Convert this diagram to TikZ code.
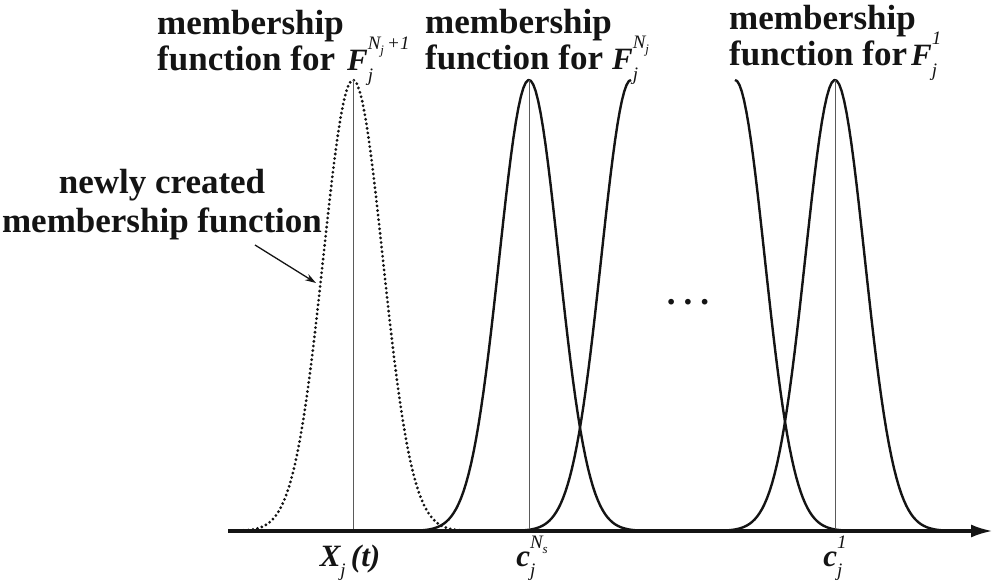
\documentclass[tikz,border=0pt]{standalone}
\usepackage{fontspec}
\setmainfont{Liberation Serif}
\usetikzlibrary{arrows.meta, positioning}
\definecolor{mfblack}{RGB}{20,20,20}
\definecolor{mfgrey}{RGB}{90,90,90}
\newcommand{\mfscript}{\fontsize{19}{19}\selectfont\mdseries\itshape}
\newcommand{\mftiny}{\fontsize{13}{13}\selectfont\mdseries\itshape}
\newcommand{\mfF}{{\fontsize{31}{31}\selectfont\bfseries\itshape F}}
\newcommand{\mfidx}[2]{\smash{\makebox[0pt][l]{\raisebox{-0.32em}{\mfscript #2}}\raisebox{0.6em}{\mfscript #1}}}
\newcommand{\mfsub}[1]{\smash{\raisebox{-0.32em}{\mfscript #1}}}
\tikzset{
  mfcurve/.style   = {line width=2.4pt, draw=mfblack, line join=round},
  newcurve/.style  = {line width=3.1pt, draw=mfblack, line cap=round, dash pattern=on 0pt off 4.6pt},
  centreline/.style= {line width=0.9pt, draw=mfgrey},
  universe/.style  = {line width=3.4pt, draw=mfblack, -{Latex[length=22pt,width=13pt]}},
  pointer/.style   = {line width=1.3pt, draw=mfblack, -{Stealth[length=11pt,width=7pt]}},
  mflabel/.style   = {inner sep=0pt, align=left, text=mfblack,
                      font=\fontsize{35}{36}\selectfont\bfseries},
  axlabel/.style   = {inner sep=0pt, text=mfblack,
                      font=\fontsize{31}{31}\selectfont\bfseries\itshape},
  declare function = {mf(\x,\c)=52+451*exp(-0.5*((\x-\c)/29.7)^2);},
}
\begin{document}
\begin{tikzpicture}[x=1pt, y=1pt]
\useasboundingbox (0,0) rectangle (995,583);

% ---------- Universe of discourse ----------
\coordinate (axisstart) at (228,52);
\coordinate (axisend) at (993,52);
\coordinate (footnew) at (353,52);
\coordinate (footN) at (529,52);
\coordinate (footone) at (835,52);
\coordinate (peaknew) at (353,503);
\coordinate (peakN) at (529,503);
\coordinate (peakone) at (835,503);

% ---------- Membership functions ----------
\draw[newcurve] plot[domain=230:470, samples=90] (\x, {mf(\x,353)});
\draw[mfcurve] plot[domain=419:640, samples=90] (\x, {mf(\x,529)});
\draw[mfcurve] plot[domain=520:631, samples=50] (\x, {mf(\x,631)});
\draw[mfcurve] plot[domain=735:846, samples=50] (\x, {mf(\x,735)});
\draw[mfcurve] plot[domain=725:946, samples=90] (\x, {mf(\x,835)});

\draw[centreline] (footnew) -- (peaknew);
\draw[centreline] (footN) -- (peakN);
\draw[centreline] (footone) -- (peakone);
\draw[universe] (axisstart) -- (axisend);

% ---------- Labels ----------
\node[mflabel, anchor=north west] (labnew) at (157,573)
  {membership\\function for\hspace{12pt}\mfF\mfidx{N\raisebox{-0.25em}{\mftiny j}\,+1}{j}};
\node[mflabel, anchor=north west] (labN) at (425,574)
  {membership\\function for\hspace{9pt}\mfF\mfidx{N\raisebox{-0.25em}{\mftiny j}}{j}};
\node[mflabel, anchor=north west] (labone) at (729,578)
  {membership\\function for\hspace{4pt}\mfF\mfidx{1}{j}};
\node[mflabel, align=center, anchor=north, font=\fontsize{35}{39}\selectfont\bfseries]
  (labcreated) at (162,414) {newly created\\membership function};
\node[mflabel, anchor=base] (dots) at (688,278) {.\hspace{8pt}.\hspace{8pt}.};

\node[axlabel, anchor=base] (xlab) at (350,16) {X\mfsub{j}\,(t)};
\node[axlabel, anchor=base] (clabN) at (532,16) {c\mfidx{N\raisebox{-0.25em}{\mftiny s}}{j}\hspace{18pt}};
\node[axlabel, anchor=base] (clabone) at (835,16) {c\mfidx{1}{j}\hspace{6pt}};

% ---------- Pointer ----------
\coordinate (pointfrom) at (255,338);
\coordinate (pointto) at (316,300);
\draw[pointer] (pointfrom) -- (pointto);

\end{tikzpicture}
\end{document}
